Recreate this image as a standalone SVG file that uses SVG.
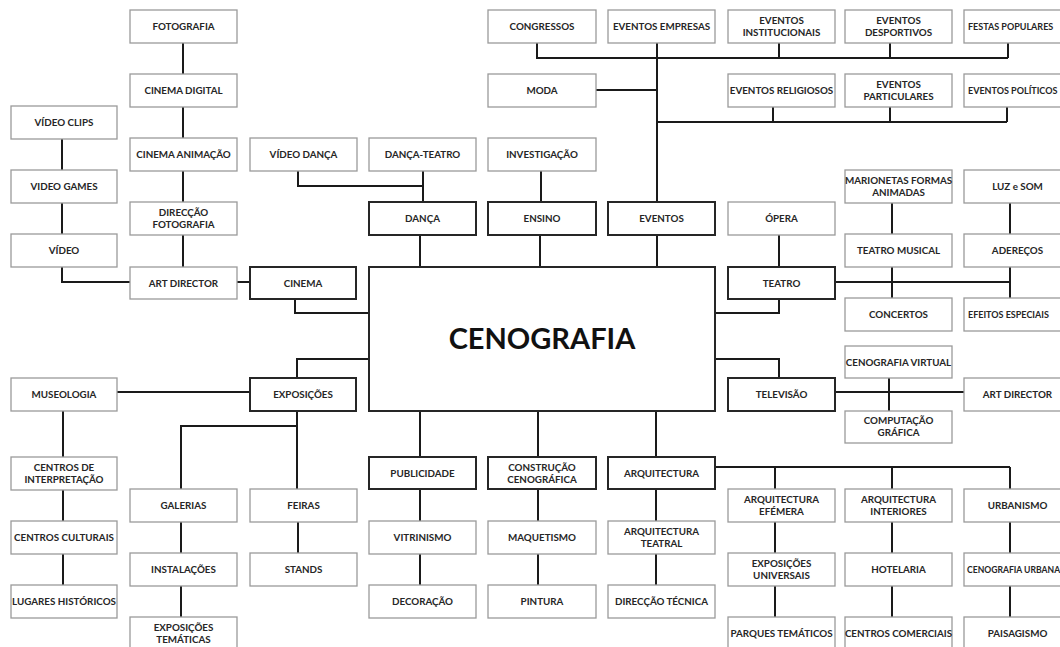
<svg xmlns="http://www.w3.org/2000/svg" width="1060" height="647" viewBox="0 0 1060 647">
<style>
.bg{fill:#ffffff}
.n rect{fill:#ffffff;stroke:#9a9a9a;stroke-width:1.3}
.m rect{fill:#ffffff;stroke:#262626;stroke-width:2}
text{font-family:Lato,"DejaVu Sans",sans-serif;font-weight:bold;font-size:9.8px;fill:#262626;text-anchor:middle}
.big{font-size:29px;fill:#111111}
.edge{text-anchor:start;font-size:9px}
.edge2{text-anchor:start;font-size:8.6px}
#connectors path{fill:none;stroke:#1a1a1a;stroke-width:2}
</style>
<rect class="bg" x="0" y="0" width="1060" height="647"/>
<g id="connectors">
<path d="M183,43V267"/>
<path d="M62,139V234M62,267V282H130"/>
<path d="M237,282H250"/>
<path d="M295,299V313H369"/>
<path d="M298,171V186H423M423,171V202"/>
<path d="M541,171V202"/>
<path d="M420,235V267M540,235V267M657,235V267"/>
<path d="M657,43V202"/>
<path d="M537,43V58H1008M779,43V58M890,43V58M1008,43V58"/>
<path d="M596,90H657"/>
<path d="M657,122H1007M773,107V122M890,107V122M1007,107V122"/>
<path d="M779,235V267"/>
<path d="M779,299V313H715"/>
<path d="M835,282H1010M892,203V298M1010,203V298"/>
<path d="M779,378V359H715"/>
<path d="M835,392H964M889,378V411"/>
<path d="M297,378V359H369"/>
<path d="M117,392H250"/>
<path d="M63,411V585"/>
<path d="M297,411V489M297,426H181V489"/>
<path d="M181,522V617"/>
<path d="M298,522V553"/>
<path d="M420,411V585"/>
<path d="M538,411V585"/>
<path d="M656,411V585"/>
<path d="M715,467H1010M775,467V617M892,467V617M1010,467V617"/>
</g>
<g id="fotografia" class="n"><rect x="130" y="10" width="107" height="33"/><text x="183.5" y="30">FOTOGRAFIA</text></g>
<g id="cinema-digital" class="n"><rect x="130" y="74" width="107" height="33"/><text x="183.5" y="94">CINEMA DIGITAL</text></g>
<g id="cinema-animacao" class="n"><rect x="130" y="138" width="107" height="33"/><text x="183.5" y="158">CINEMA ANIMAÇÃO</text></g>
<g id="direccao-fotografia" class="n"><rect x="130" y="202" width="107" height="33"/><text x="183.5" y="216">DIRECÇÃO</text><text x="183.5" y="228">FOTOGRAFIA</text></g>
<g id="art-director-cinema" class="n"><rect x="130" y="267" width="107" height="32"/><text x="183.5" y="287">ART DIRECTOR</text></g>
<g id="video-clips" class="n"><rect x="11" y="106" width="106" height="33"/><text x="64" y="126">VÍDEO CLIPS</text></g>
<g id="video-games" class="n"><rect x="11" y="170" width="106" height="33"/><text x="64" y="190">VIDEO GAMES</text></g>
<g id="video" class="n"><rect x="11" y="234" width="106" height="33"/><text x="64" y="254">VÍDEO</text></g>
<g id="cinema" class="m"><rect x="250" y="267" width="106" height="32"/><text x="303" y="287">CINEMA</text></g>
<g id="video-danca" class="n"><rect x="250" y="138" width="107" height="33"/><text x="303.5" y="158">VÍDEO DANÇA</text></g>
<g id="danca-teatro" class="n"><rect x="369" y="138" width="107" height="33"/><text x="422.5" y="158">DANÇA-TEATRO</text></g>
<g id="danca" class="m"><rect x="369" y="202" width="107" height="33"/><text x="422.5" y="222">DANÇA</text></g>
<g id="investigacao" class="n"><rect x="488" y="138" width="108" height="33"/><text x="542" y="158">INVESTIGAÇÃO</text></g>
<g id="ensino" class="m"><rect x="488" y="202" width="108" height="33"/><text x="542" y="222">ENSINO</text></g>
<g id="congressos" class="n"><rect x="488" y="10" width="108" height="33"/><text x="542" y="30">CONGRESSOS</text></g>
<g id="moda" class="n"><rect x="488" y="74" width="108" height="33"/><text x="542" y="94">MODA</text></g>
<g id="eventos-empresas" class="n"><rect x="608" y="10" width="107" height="33"/><text x="661.5" y="30">EVENTOS EMPRESAS</text></g>
<g id="eventos" class="m"><rect x="608" y="202" width="107" height="33"/><text x="661.5" y="222">EVENTOS</text></g>
<g id="eventos-institucionais" class="n"><rect x="728" y="10" width="107" height="33"/><text x="781.5" y="24">EVENTOS</text><text x="781.5" y="36">INSTITUCIONAIS</text></g>
<g id="eventos-desportivos" class="n"><rect x="845" y="10" width="107" height="33"/><text x="898.5" y="24">EVENTOS</text><text x="898.5" y="36">DESPORTIVOS</text></g>
<g id="festas-populares" class="n"><rect x="964" y="10" width="107" height="33"/><text class="edge" x="968" y="30">FESTAS POPULARES</text></g>
<g id="eventos-religiosos" class="n"><rect x="728" y="74" width="107" height="33"/><text x="781.5" y="94">EVENTOS RELIGIOSOS</text></g>
<g id="eventos-particulares" class="n"><rect x="845" y="74" width="107" height="33"/><text x="898.5" y="88">EVENTOS</text><text x="898.5" y="100">PARTICULARES</text></g>
<g id="eventos-politicos" class="n"><rect x="964" y="74" width="107" height="33"/><text class="edge" x="968" y="94">EVENTOS POLÍTICOS</text></g>
<g id="opera" class="n"><rect x="728" y="202" width="107" height="33"/><text x="781.5" y="222">ÓPERA</text></g>
<g id="teatro" class="m"><rect x="728" y="267" width="107" height="32"/><text x="781.5" y="287">TEATRO</text></g>
<g id="marionetas" class="n"><rect x="845" y="170" width="107" height="33"/><text x="898.5" y="184">MARIONETAS FORMAS</text><text x="898.5" y="196">ANIMADAS</text></g>
<g id="luz-som" class="n"><rect x="964" y="170" width="107" height="33"/><text x="1017.5" y="190">LUZ e SOM</text></g>
<g id="teatro-musical" class="n"><rect x="845" y="234" width="107" height="33"/><text x="898.5" y="254">TEATRO MUSICAL</text></g>
<g id="aderecos" class="n"><rect x="964" y="234" width="107" height="33"/><text x="1017.5" y="254">ADEREÇOS</text></g>
<g id="concertos" class="n"><rect x="845" y="298" width="107" height="33"/><text x="898.5" y="318">CONCERTOS</text></g>
<g id="efeitos-especiais" class="n"><rect x="964" y="298" width="107" height="33"/><text class="edge" x="968" y="318">EFEITOS ESPECIAIS</text></g>
<g id="cenografia" class="m"><rect x="369" y="267" width="346" height="144"/><text class="big" x="542" y="349">CENOGRAFIA</text></g>
<g id="cenografia-virtual" class="n"><rect x="845" y="346" width="107" height="32"/><text x="898.5" y="366">CENOGRAFIA VIRTUAL</text></g>
<g id="televisao" class="m"><rect x="728" y="378" width="107" height="33"/><text x="781.5" y="398">TELEVISÃO</text></g>
<g id="art-director-tv" class="n"><rect x="964" y="378" width="107" height="33"/><text x="1017.5" y="398">ART DIRECTOR</text></g>
<g id="computacao-grafica" class="n"><rect x="845" y="411" width="107" height="32"/><text x="898.5" y="424">COMPUTAÇÃO</text><text x="898.5" y="436">GRÁFICA</text></g>
<g id="museologia" class="n"><rect x="11" y="378" width="106" height="33"/><text x="64" y="398">MUSEOLOGIA</text></g>
<g id="exposicoes" class="m"><rect x="250" y="378" width="106" height="33"/><text x="303" y="398">EXPOSIÇÕES</text></g>
<g id="centros-interpretacao" class="n"><rect x="11" y="457" width="106" height="33"/><text x="64" y="471">CENTROS DE</text><text x="64" y="483">INTERPRETAÇÃO</text></g>
<g id="centros-culturais" class="n"><rect x="11" y="521" width="106" height="33"/><text x="64" y="541">CENTROS CULTURAIS</text></g>
<g id="lugares-historicos" class="n"><rect x="11" y="585" width="106" height="33"/><text x="64" y="605">LUGARES HISTÓRICOS</text></g>
<g id="galerias" class="n"><rect x="130" y="489" width="107" height="33"/><text x="183.5" y="509">GALERIAS</text></g>
<g id="instalacoes" class="n"><rect x="130" y="553" width="107" height="33"/><text x="183.5" y="573">INSTALAÇÕES</text></g>
<g id="exposicoes-tematicas" class="n"><rect x="130" y="617" width="107" height="33"/><text x="183.5" y="631">EXPOSIÇÕES</text><text x="183.5" y="643">TEMÁTICAS</text></g>
<g id="feiras" class="n"><rect x="250" y="489" width="107" height="33"/><text x="303.5" y="509">FEIRAS</text></g>
<g id="stands" class="n"><rect x="250" y="553" width="107" height="33"/><text x="303.5" y="573">STANDS</text></g>
<g id="publicidade" class="m"><rect x="369" y="457" width="107" height="32"/><text x="422.5" y="477">PUBLICIDADE</text></g>
<g id="vitrinismo" class="n"><rect x="369" y="521" width="107" height="33"/><text x="422.5" y="541">VITRINISMO</text></g>
<g id="decoracao" class="n"><rect x="369" y="585" width="107" height="33"/><text x="422.5" y="605">DECORAÇÃO</text></g>
<g id="construcao-cenografica" class="m"><rect x="488" y="457" width="108" height="32"/><text x="542" y="471">CONSTRUÇÃO</text><text x="542" y="483">CENOGRÁFICA</text></g>
<g id="maquetismo" class="n"><rect x="488" y="521" width="108" height="33"/><text x="542" y="541">MAQUETISMO</text></g>
<g id="pintura" class="n"><rect x="488" y="585" width="108" height="33"/><text x="542" y="605">PINTURA</text></g>
<g id="arquitectura" class="m"><rect x="608" y="457" width="107" height="32"/><text x="661.5" y="477">ARQUITECTURA</text></g>
<g id="arquitectura-teatral" class="n"><rect x="608" y="521" width="107" height="33"/><text x="661.5" y="535">ARQUITECTURA</text><text x="661.5" y="547">TEATRAL</text></g>
<g id="direccao-tecnica" class="n"><rect x="608" y="585" width="107" height="33"/><text x="661.5" y="605">DIRECÇÃO TÉCNICA</text></g>
<g id="arquitectura-efemera" class="n"><rect x="728" y="489" width="107" height="33"/><text x="781.5" y="503">ARQUITECTURA</text><text x="781.5" y="515">EFÉMERA</text></g>
<g id="exposicoes-universais" class="n"><rect x="728" y="553" width="107" height="33"/><text x="781.5" y="567">EXPOSIÇÕES</text><text x="781.5" y="579">UNIVERSAIS</text></g>
<g id="parques-tematicos" class="n"><rect x="728" y="617" width="107" height="33"/><text x="781.5" y="637">PARQUES TEMÁTICOS</text></g>
<g id="arquitectura-interiores" class="n"><rect x="845" y="489" width="107" height="33"/><text x="898.5" y="503">ARQUITECTURA</text><text x="898.5" y="515">INTERIORES</text></g>
<g id="hotelaria" class="n"><rect x="845" y="553" width="107" height="33"/><text x="898.5" y="573">HOTELARIA</text></g>
<g id="centros-comerciais" class="n"><rect x="845" y="617" width="107" height="33"/><text x="898.5" y="637">CENTROS COMERCIAIS</text></g>
<g id="urbanismo" class="n"><rect x="964" y="489" width="107" height="33"/><text x="1017.5" y="509">URBANISMO</text></g>
<g id="cenografia-urbana" class="n"><rect x="964" y="553" width="107" height="33"/><text class="edge2" x="967" y="573">CENOGRAFIA URBANA</text></g>
<g id="paisagismo" class="n"><rect x="964" y="617" width="107" height="33"/><text x="1017.5" y="637">PAISAGISMO</text></g>
</svg>
